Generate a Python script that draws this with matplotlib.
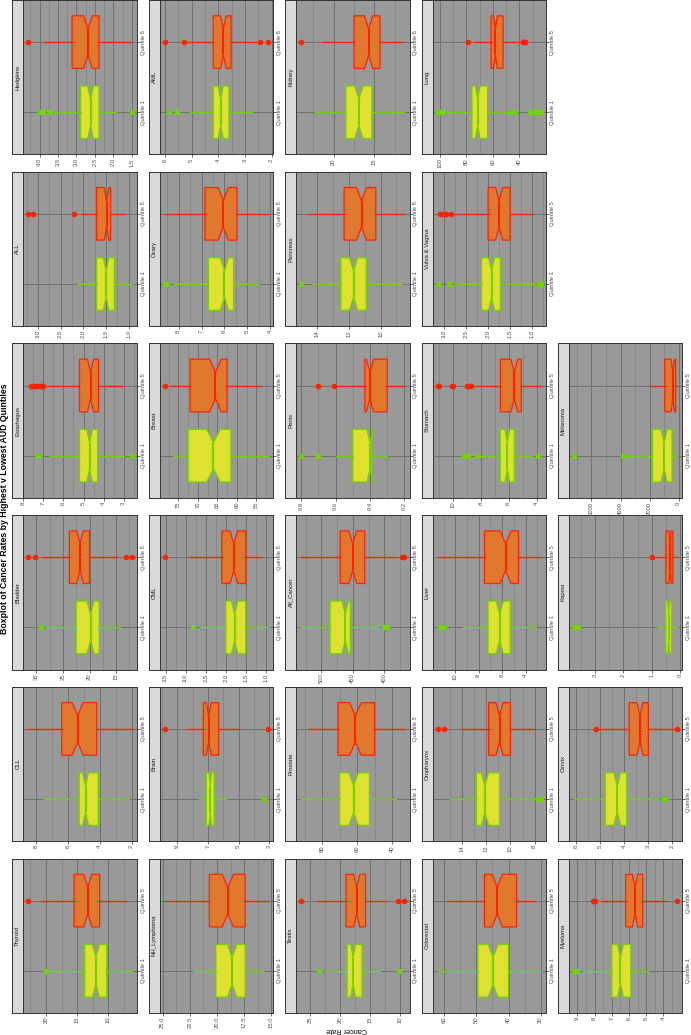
import matplotlib
matplotlib.use('Agg')
import matplotlib.pyplot as plt
import numpy as np

plt.rcParams['font.family'] = ['Liberation Sans', 'DejaVu Sans']

# facet order (ggplot facet_wrap, 6 per row in the unrotated plot)
cancers = ['Thyroid', 'CLL', 'Bladder', 'Esophagus', 'ALL', 'Hodgkins',
           'NH_Lymphoma', 'Brain', 'CML', 'Breast', 'Ovary', 'AML',
           'Testis', 'Prostate', 'All_Cancer', 'Penis', 'Pancreas', 'Kidney',
           'Colorectal', 'Oropharynx', 'Liver', 'Stomach', 'Vulva & Vagina', 'Lung',
           'Myeloma', 'Cervix', 'Kaposi', 'Melanoma']

tick_labels = [['20', '15', '10'], ['8', '6', '4', '2'], ['30', '25', '20', '15'],
               ['8', '7', '6', '5', '4', '3'], ['3.0', '2.5', '2.0', '1.5', '1.0'],
               ['4.0', '3.5', '3.0', '2.5', '2.0', '1.5'],
               ['25.0', '22.5', '20.0', '17.5', '15.0'], ['9', '7', '5', '3'],
               ['3.5', '3.0', '2.5', '2.0', '1.5', '1.0'], ['75', '70', '65', '60', '55'],
               ['8', '7', '6', '5', '4'], ['6', '5', '4', '3', '2'],
               ['25', '20', '15', '10'], ['80', '60', '40'], ['500', '450', '400'],
               ['0.8', '0.6', '0.4', '0.2'], ['14', '12', '10'], ['20', '15'],
               ['60', '50', '40', '30'], ['14', '12', '10', '8'], ['10', '8', '6', '4'],
               ['10', '8', '6', '4'], ['3.0', '2.5', '2.0', '1.5', '1.0'],
               ['100', '80', '60', '40'], ['9', '8', '7', '6', '5', '4'],
               ['6', '5', '4', '3', '2'], ['3', '2', '1', '0'], ['6000', '4000', '2000', '0']]

# Quintile 1 (lowest AUD)
q1_med = [12.0, 4.9, 19.8, 4.7, 1.50, 2.62, 18.6, 6.85, 1.78, 66, 6.0, 3.91, 17.8, 62, 462,
          0.40, 11.7, 16.9, 44.8, 12.1, 6.2, 6.1, 1.92, 71.4, 6.5, 4.3, 0.40, 1000]
q1_lower = [10.3, 4.1, 18.2, 4.3, 1.32, 2.39, 17.4, 6.6, 1.5, 61.5, 5.6, 3.6, 16.3, 53, 454,
            0.39, 10.9, 15.3, 40, 10.9, 5.3, 5.6, 1.72, 64, 5.9, 3.9, 0.3, 450]
q1_upper = [13.8, 5.3, 22.5, 5.2, 1.71, 2.89, 20.1, 7.1, 2.0, 72.5, 6.7, 4.19, 18.8, 70, 486,
            0.50, 12.5, 18.5, 49.5, 12.8, 7.2, 6.6, 2.15, 75.7, 7.0, 4.8, 0.5, 1800]
q1_wlo = [6.3, 2.2, 14.3, 3.0, 0.94, 1.94, 15.8, 5.8, 0.95, 52, 4.5, 2.73, 13.3, 38, 410,
          0.30, 8.7, 11.3, 30, 7.9, 3.1, 4.3, 0.95, 48, 4.9, 2.6, 0.1, 100]
q1_whi = [19.6, 7.5, 28.2, 6.7, 2.12, 3.62, 22.2, 7.6, 2.65, 76.5, 8.2, 5.04, 22.5, 92, 532,
          0.60, 14.3, 22.3, 62, 15.0, 9.3, 8.0, 2.75, 96, 8.7, 6.1, 0.8, 3700]
q1_out = [[20.0], [], [29.2], [7.2, 7.25, 2.6], [], [3.71, 3.91, 4.0, 1.51], [], [3.35],
          [2.82], [], [8.5, 8.6], [5.54, 5.83], [23.5, 10.1], [], [400, 398, 395],
          [0.70, 0.80], [15.0], [], [], [7.5, 7.6, 7.7], [11.0, 11.3],
          [8.2, 8.3, 8.9, 9.0, 9.1, 9.2, 3.9], [2.9, 3.15, 0.85, 0.8],
          [98, 99, 100, 101, 101.5, 46.8, 43, 32, 30, 29, 28, 27, 26, 25, 24],
          [9.0, 9.2], [2.4, 2.35, 2.3], [3.6, 3.75], [3800, 7200]]

# Quintile 5 (highest AUD)
q5_med = [13.3, 5.4, 21.8, 4.65, 1.49, 2.69, 19.0, 6.95, 1.8, 65.5, 6.05, 3.81, 17.2, 61, 450,
          0.40, 11.2, 15.7, 43.5, 10.9, 5.7, 5.6, 1.75, 58.1, 5.65, 3.35, 0.35, 400]
q5_lower = [11.4, 4.2, 20.0, 4.25, 1.40, 2.39, 17.4, 6.3, 1.5, 62.5, 5.45, 3.52, 15.7, 50, 431,
            0.30, 10.3, 14.3, 37.5, 10.0, 4.6, 5.1, 1.5, 52.3, 5.2, 3.0, 0.25, 200]
q5_upper = [15.5, 6.4, 23.8, 5.2, 1.71, 3.12, 20.7, 7.3, 2.1, 72, 6.85, 4.19, 19.0, 71, 470,
            0.43, 12.3, 17.5, 47.5, 11.8, 7.5, 6.6, 2.0, 61.4, 6.2, 3.8, 0.5, 950]
q5_wlo = [7.2, 2.0, 14.8, 3.1, 1.11, 1.53, 15.3, 5.0, 1.12, 54, 4.1, 2.54, 12.5, 33, 380,
          0.20, 8.5, 11.5, 32, 8.0, 2.7, 3.7, 1.0, 39, 3.8, 1.9, 0.1, 100]
q5_whi = [20.8, 8.5, 29.0, 6.8, 2.05, 3.89, 24.8, 8.3, 2.9, 77, 8.6, 5.23, 23.7, 88, 532,
          0.58, 14.5, 21.5, 59, 14.0, 11.5, 8.5, 2.75, 74.5, 7.6, 5.0, 0.8, 2000]
q5_out = [[22.8], [], [30.2, 31.5, 13.2, 12.1], [7.0, 7.1, 7.2, 7.3, 7.4, 7.5, 7.6],
          [2.21, 3.12, 3.21], [4.30], [], [9.8, 3.1], [3.52], [78.5], [],
          [5.3, 6.0, 2.44, 2.14], [26.5, 10.2, 9.2], [], [372, 370, 368], [0.61, 0.70],
          [], [24.0], [], [15.5, 16.0], [], [8.7, 8.8, 8.9, 9.0, 10.0, 10.1, 11.0, 11.1],
          [2.85, 2.95, 3.05, 3.1], [78.7, 37, 36.5, 36, 35.5], [8.0, 8.05, 8.1, 3.2],
          [5.2, 1.8], [1.0], []]

group_names = ['Quintile 1', 'Quintile 5']
fills = ['#dfe02f', '#e0782f']
edges = ['#6fd400', '#ff2200']

W, H = 691, 1035
fig = plt.figure(figsize=(W / 100, H / 100), dpi=100)

# the chart is the ggplot landscape figure turned 90 degrees, so panels are laid out by hand
col_x0, col_step = 12.3, 136.4
row_step = 171.7
strip_w, panel_w, panel_h = 11.0, 113.4, 154.4
n_obs = 100  # for notch width (ggplot: median +/- 1.58 IQR / sqrt(n))


def stats(med, lo, hi, wlo, whi, out):
    half = 1.58 * (hi - lo) / np.sqrt(n_obs)
    return dict(med=med, q1=lo, q3=hi, whislo=wlo, whishi=whi, fliers=out,
                cilo=med - half, cihi=med + half)


for i, name in enumerate(cancers):
    c = i // 6
    r = 5 - i % 6
    x0 = col_x0 + c * col_step
    top = r * row_step
    yb = 1 - (top + panel_h) / H

    # strip
    sax = fig.add_axes([x0 / W, yb, strip_w / W, panel_h / H])
    sax.set_facecolor('#d9d9d9')
    sax.set_xticks([])
    sax.set_yticks([])
    for sp in sax.spines.values():
        sp.set_color('#333333')
        sp.set_linewidth(0.7)
    sax.text(0.5, 0.5, name, rotation=90, ha='center', va='center', fontsize=4.3,
             color='#1a1a1a', transform=sax.transAxes)

    ax = fig.add_axes([(x0 + strip_w) / W, yb, panel_w / W, panel_h / H])
    ax.set_facecolor('#999999')
    ax.set_axisbelow(True)

    st = [stats(q1_med[i], q1_lower[i], q1_upper[i], q1_wlo[i], q1_whi[i], q1_out[i]),
          stats(q5_med[i], q5_lower[i], q5_upper[i], q5_wlo[i], q5_whi[i], q5_out[i])]
    kw = dict(positions=[1, 2], widths=0.75, shownotches=True, patch_artist=True,
              showcaps=False, flierprops=dict(marker='o', markersize=3, linestyle='none'))
    try:
        art = ax.bxp(st, orientation='horizontal', **kw)
    except TypeError:
        art = ax.bxp(st, vert=False, **kw)

    for k in range(2):
        b = art['boxes'][k]
        b.set_facecolor(fills[k])
        b.set_edgecolor(edges[k])
        b.set_linewidth(0.9)
        art['medians'][k].set_color(edges[k])
        art['medians'][k].set_linewidth(1.5)
        for w in art['whiskers'][2 * k:2 * k + 2]:
            w.set_color(edges[k])
            w.set_linewidth(1.0)
        fl = art['fliers'][k]
        fl.set_markerfacecolor(edges[k])
        fl.set_markeredgecolor(edges[k])

    vals = [v for s in st for v in [s['whislo'], s['whishi']] + list(s['fliers'])]
    lo, hi = min(vals), max(vals)
    pad = 0.05 * (hi - lo)
    ax.set_xlim(hi + pad, lo - pad)
    ax.set_ylim(0.4, 2.6)

    major = [float(t) for t in tick_labels[i]]
    step = abs(major[0] - major[1]) if len(major) > 1 else 5.0
    m0 = min(major) - step / 2
    minor = [m0 + step * j for j in range(len(major) + 2)]
    minor = [m for m in minor if lo - pad < m < hi + pad]
    ax.set_xticks(major)
    ax.set_xticklabels(tick_labels[i])
    ax.set_xticks(minor, minor=True)
    ax.tick_params(axis='x', which='major', labelsize=4.2, labelcolor='#4d4d4d',
                   length=1.8, width=0.5, color='#333333', pad=1, labelrotation=90)
    ax.tick_params(axis='x', which='minor', length=0)

    ax.yaxis.tick_right()
    ax.set_yticks([1, 2])
    ax.set_yticklabels(group_names)
    ax.tick_params(axis='y', labelsize=4.2, labelcolor='#4d4d4d', length=1.8,
                   width=0.5, color='#333333', pad=1, labelrotation=90)
    for lab in ax.get_yticklabels():
        lab.set_va('center')

    ax.grid(True, which='major', axis='both', color='#6e6e6e', linewidth=0.7)
    ax.grid(True, which='minor', axis='x', color='#7f7f7f', linewidth=0.45)
    for sp in ax.spines.values():
        sp.set_color('#333333')
        sp.set_linewidth(0.7)

fig.text(5 / W, 1 - 509 / H, 'Boxplot of Cancer Rates by Highest v Lowest AUD Quintiles',
         rotation=90, ha='center', va='center', fontsize=6.3, fontweight='bold')
fig.text(347 / W, 1 - 1030 / H, 'Cancer Rate', rotation=180, ha='center', va='center',
         fontsize=5.3)

fig.savefig('out.png', dpi=100)
